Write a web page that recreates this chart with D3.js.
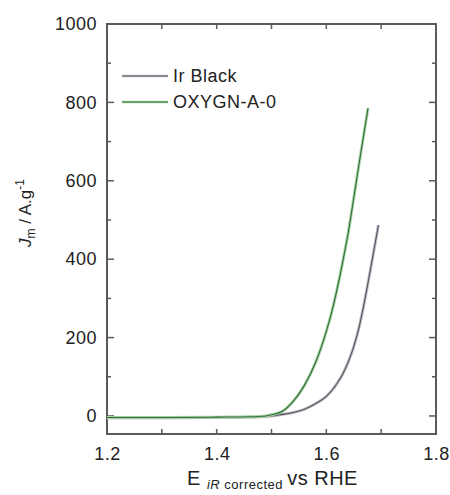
<!DOCTYPE html>
<html>
<head>
<meta charset="utf-8">
<script src="https://cdn.jsdelivr.net/npm/d3@7"></script>
<style>
  body { margin: 0; background: #fff; }
  text { font-family: "Liberation Sans", Arial, sans-serif; fill: #222; }
</style>
</head>
<body>
<div id="chart"></div>
<script>
"use strict";

// series: [E (V vs RHE), j (A/g)]
const irBlack = [
  [1.20, -5], [1.30, -5], [1.40, -4], [1.46, -3], [1.50, 0], [1.52, 4],
  [1.54, 9], [1.56, 17], [1.58, 31], [1.60, 50], [1.61, 65], [1.62, 84],
  [1.63, 107], [1.64, 138], [1.65, 177], [1.66, 228], [1.67, 295],
  [1.68, 370], [1.69, 448], [1.695, 487]
];
const oxygn = [
  [1.20, -4], [1.30, -4], [1.40, -3], [1.46, -2], [1.49, 0], [1.50, 3],
  [1.52, 12], [1.54, 38], [1.56, 78], [1.58, 135], [1.60, 216], [1.61, 266],
  [1.62, 326], [1.63, 394], [1.64, 468], [1.65, 556], [1.66, 646], [1.676, 785]
];
const seriesNames = ["Ir Black", "OXYGN-A-0"];
const xTicks = [1.2, 1.4, 1.6, 1.8];
const xMinor = [1.3, 1.5, 1.7];
const yTicks = [0, 200, 400, 600, 800, 1000];
const yMinor = [100, 300, 500, 700, 900];

const W = 450, H = 495;
const margin = {top: 24, right: 14, bottom: 61, left: 107};
const width = W - margin.left - margin.right;
const height = H - margin.top - margin.bottom;

const svg = d3.select("#chart").append("svg")
  .attr("width", W).attr("height", H);
const g = svg.append("g")
  .attr("transform", `translate(${margin.left},${margin.top})`);

const x = d3.scaleLinear().domain([1.2, 1.8]).range([0, width]);
const y = d3.scaleLinear().domain([-46, 1000]).range([height, 0]);

const axisColor = "#5a5a5a";

// tick marks, all pointing inward, mirrored on top/right
function tickLines(sel, vals, len, side) {
  sel.selectAll(null).data(vals).enter().append("line")
    .attr("x1", d => side === "l" ? 0 : side === "r" ? width : x(d))
    .attr("x2", d => side === "l" ? len : side === "r" ? width - len : x(d))
    .attr("y1", d => side === "b" ? height : side === "t" ? 0 : y(d))
    .attr("y2", d => side === "b" ? height - len : side === "t" ? len : y(d))
    .attr("stroke", axisColor).attr("stroke-width", 1.5);
}
const ticks = g.append("g");
tickLines(ticks, xTicks, 5, "b");
tickLines(ticks, xMinor, 5, "b");
tickLines(ticks, xTicks, 5, "t");
tickLines(ticks, xMinor, 5, "t");
tickLines(ticks, yTicks, 7, "l");
tickLines(ticks, yMinor, 4, "l");
tickLines(ticks, yTicks, 7, "r");
tickLines(ticks, yMinor, 4, "r");

// frame
g.append("rect")
  .attr("width", width).attr("height", height)
  .attr("fill", "none").attr("stroke", axisColor).attr("stroke-width", 2);

// tick labels via d3 axes (ticks hidden, only text)
const xAxis = g.append("g").attr("transform", `translate(0,${height})`)
  .call(d3.axisBottom(x).tickValues(xTicks).tickSize(0).tickPadding(13).tickFormat(d3.format(".1f")));
const yAxis = g.append("g")
  .call(d3.axisLeft(y).tickValues(yTicks).tickSize(0).tickPadding(10).tickFormat(d3.format("d")));
[xAxis, yAxis].forEach(a => {
  a.select(".domain").remove();
  a.selectAll("text").style("font-size", "18px").style("letter-spacing", "0.5px")
    .style("font-family", '"Liberation Sans", Arial, sans-serif').attr("fill", "#222");
});

// curves
const line = d3.line().x(d => x(d[0])).y(d => y(d[1])).curve(d3.curveMonotoneX);
const series = [
  {name: seriesNames[0], data: irBlack, light: "#c2bec6", dark: "#57525c"},
  {name: seriesNames[1], data: oxygn, light: "#a9d2a9", dark: "#2f6e35"}
];
series.forEach(s => {
  g.append("path").attr("d", line(s.data)).attr("fill", "none")
    .attr("stroke", s.light).attr("stroke-width", 3);
  g.append("path").attr("d", line(s.data)).attr("fill", "none")
    .attr("stroke", s.dark).attr("stroke-width", 1.1);
});

// legend
const legend = g.append("g").attr("transform", "translate(15,52)");
series.forEach((s, i) => {
  const row = legend.append("g").attr("transform", `translate(0,${i * 26})`);
  row.append("line").attr("x1", 0).attr("x2", 46).attr("y1", 0).attr("y2", 0)
    .attr("stroke", s.light).attr("stroke-width", 2.5);
  row.append("line").attr("x1", 0).attr("x2", 46).attr("y1", 0).attr("y2", 0)
    .attr("stroke", s.dark).attr("stroke-width", 1);
  row.append("text").attr("x", 51).attr("y", 0).attr("dy", "0.36em")
    .style("font-size", "18px").style("letter-spacing", "0.5px").text(s.name);
});

// y axis title
const yt = svg.append("text")
  .attr("transform", "translate(31,213) rotate(-90)")
  .attr("text-anchor", "middle")
  .style("font-size", "17px");
yt.append("tspan").style("font-style", "italic").text("J");
yt.append("tspan").attr("dy", 4).style("font-size", "12px").text("m");
yt.append("tspan").attr("dy", -4).text(" / A.g");
yt.append("tspan").attr("dy", -7).style("font-size", "12px").text("-1");

// x axis title
const xt = svg.append("text")
  .attr("x", margin.left + width / 2 + 1).attr("y", 485)
  .attr("text-anchor", "middle")
  .style("font-size", "20px").style("letter-spacing", "0.5px");
xt.append("tspan").text("E  ");
xt.append("tspan").attr("dy", 4).style("font-size", "13px").style("font-style", "italic").text("iR");
xt.append("tspan").style("font-size", "13px").text(" corrected ");
xt.append("tspan").attr("dy", -4).text("vs RHE");
</script>
</body>
</html>
